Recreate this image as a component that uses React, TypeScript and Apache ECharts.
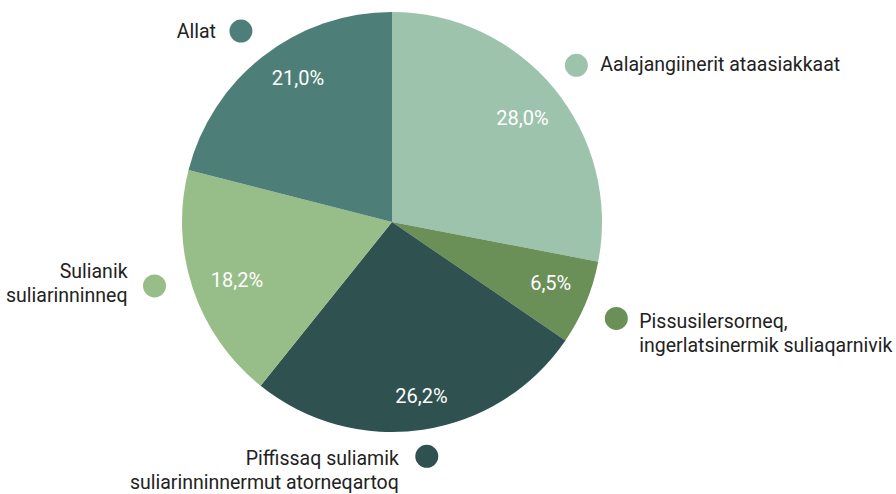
import React, { useEffect, useRef } from "react";
import * as echarts from "echarts";

const categories = [
  "Aalajangiinerit ataasiakkaat",
  "Pissusilersorneq,\ningerlatsinermik suliaqarnivik",
  "Piffissaq suliamik\nsuliarinninnermut atorneqartoq",
  "Sulianik\nsuliarinninneq",
  "Allat",
];
const values = [28.0, 6.5, 26.2, 18.2, 21.0];
const colors = ["#9dc3ad", "#6a8f57", "#2f5250", "#97bd89", "#4d7f78"];

// per-item label nudges
const dotAdjust: [number, number][] = [[-3, -2], [0, 3], [-1, -6], [-7, -13], [-2, 1]];
const textAdjust: [number, number, string][] = [
  [24, -1, "left"],
  [23, 15, "left"],
  [-28, 14, "right"],
  [-27, -2, "right"],
  [-25, 0, "right"],
];
const pctAdjust: [number, number][] = [[-3, 6], [-1, -6], [4, 3], [9, 3], [12, -7]];

const FONT = "Roboto";

export default function App() {
  const ref = useRef<HTMLDivElement>(null);
  useEffect(() => {
    document.body.style.margin = "0";
    const chart = echarts.init(ref.current!, null, { renderer: "svg" });
    const data = categories.map((name, i) => ({ name, value: values[i] }));
    const center = [392, 222];
    chart.setOption({
      animation: false,
      color: colors,
      series: [
        {
          type: "pie",
          center,
          radius: [0, 210],
          startAngle: 90,
          silent: true,
          data: data.map((d, i) => ({ ...d, itemStyle: { color: colors[i] } })),
          label: { show: false },
          labelLine: { show: false },
          itemStyle: { borderWidth: 0 },
        },
        {
          type: "pie",
          center,
          radius: [0, 340],
          startAngle: 90,
          silent: true,
          data,
          itemStyle: { color: "transparent", borderWidth: 0 },
          label: {
            show: true,
            position: "inside",
            color: "#ffffff",
            fontFamily: FONT,
            fontSize: 20,
            formatter: (p: any) => p.value.toFixed(1).replace(".", ",") + "%",
          },
          labelLine: { show: false },
          labelLayout: (p: any) => ({
            dx: pctAdjust[p.dataIndex][0],
            dy: pctAdjust[p.dataIndex][1],
          }),
        },
        {
          type: "pie",
          center,
          radius: [0, 210],
          startAngle: 90,
          silent: true,
          data: data.map((d, i) => ({
            ...d,
            label: { backgroundColor: colors[i] },
          })),
          itemStyle: { color: "transparent", borderWidth: 0 },
          label: {
            show: true,
            position: "outside",
            formatter: "",
            width: 23,
            height: 23,
            borderRadius: 11.5,
            distanceToLabelLine: 0,
            padding: 0,
          },
          labelLine: { show: false, length: 33, length2: 0 },
          labelLayout: (p: any) => ({
            dx: dotAdjust[p.dataIndex][0],
            dy: dotAdjust[p.dataIndex][1],
            align: "center",
            verticalAlign: "middle",
          }),
        },
        {
          type: "pie",
          center,
          radius: [0, 210],
          startAngle: 90,
          silent: true,
          data,
          itemStyle: { color: "transparent", borderWidth: 0 },
          label: {
            show: true,
            position: "outside",
            formatter: "{b}",
            color: "#222222",
            fontFamily: FONT,
            fontSize: 19.5,
            lineHeight: 24,
            distanceToLabelLine: 0,
          },
          labelLine: { show: false, length: 33, length2: 0 },
          labelLayout: (p: any) => ({
            dx: dotAdjust[p.dataIndex][0] + textAdjust[p.dataIndex][0],
            dy: dotAdjust[p.dataIndex][1] + textAdjust[p.dataIndex][1],
            align: textAdjust[p.dataIndex][2],
            verticalAlign: "middle",
          }),
        },
      ],
    });
    return () => chart.dispose();
  }, []);
  return <div ref={ref} style={{ width: 896, height: 494 }} />;
}
